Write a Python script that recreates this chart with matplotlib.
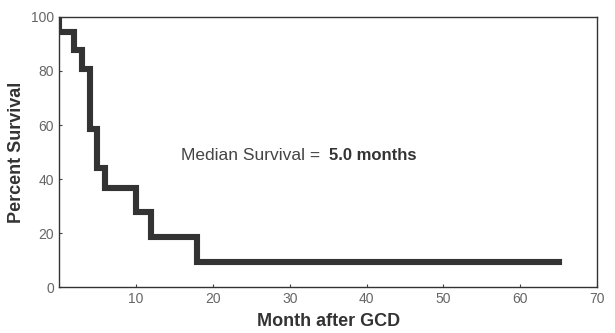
import numpy as np
import matplotlib
matplotlib.use('Agg')
import matplotlib.pyplot as plt

plt.rcParams['font.family'] = ['Liberation Sans', 'DejaVu Sans']

# survival steps
months = [0, 0, 2, 3, 4, 5, 6, 10, 12, 18, 65]
survival = [100, 94.6, 87.8, 80.8, 58.7, 44.0, 36.6, 27.7, 18.4, 9.3, 9.3]
xticks = [10, 20, 30, 40, 50, 60, 70]
yticks = [0, 20, 40, 60, 80, 100]

fig = plt.figure(figsize=(6.15, 3.33), dpi=100)
ax = fig.add_axes([0.096, 0.138, 0.875, 0.811])

ax.step(months, survival, where='post', color='#333333', lw=4.4, solid_joinstyle='miter')

ax.set_xlim(0, 70)
ax.set_ylim(0, 100)
ax.set_xticks(xticks)
ax.set_yticks(yticks)
ax.tick_params(direction='in', length=2, width=0.8, colors='#444444', labelsize=10, labelcolor='#666666')
for s in ax.spines.values():
    s.set_color('#333333')
    s.set_linewidth(1.0)

ax.set_xlabel('Month after GCD', fontsize=13, fontweight='bold', color='#333333', labelpad=5)
ax.set_ylabel('Percent Survival', fontsize=13, fontweight='bold', color='#333333', labelpad=4)

ax.text(15.8, 48.7, 'Median Survival =', fontsize=12.5, color='#444444', va='center')
ax.text(35.1, 48.7, '5.0 months', fontsize=12, fontweight='bold', color='#333333', va='center')

fig.savefig('out.png', dpi=100)
